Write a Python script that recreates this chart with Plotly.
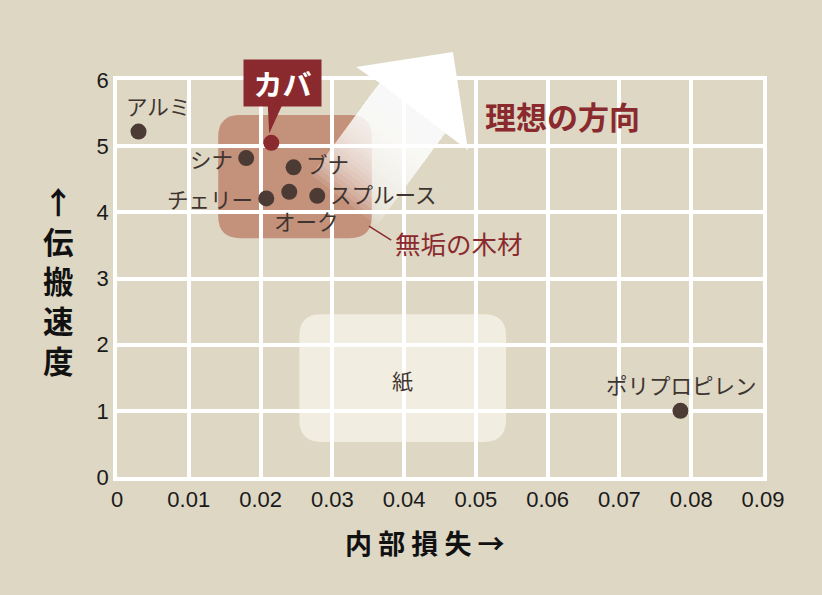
import plotly.graph_objects as go

# 各素材の 内部損失 (x) と 伝搬速度 (y)
materials = ['アルミ', 'シナ', 'ブナ', 'チェリー', 'オーク', 'スプルース', 'ポリプロピレン']
loss = [0.0030, 0.0180, 0.0246, 0.0208, 0.0240, 0.0279, 0.0785]
speed = [5.22, 4.82, 4.68, 4.21, 4.31, 4.25, 1.0]

# カバ (強調表示)
kaba_loss = [0.0215]
kaba_speed = [5.05]

# 領域 [x0, x1, y0, y1]
wood_zone = [0.0141, 0.0355, 3.61, 5.47]
paper_zone = [0.0254, 0.0542, 0.53, 2.46]

x_ticks = [0, 0.01, 0.02, 0.03, 0.04, 0.05, 0.06, 0.07, 0.08, 0.09]
x_labels = ['0', '0.01', '0.02', '0.03', '0.04', '0.05', '0.06', '0.07', '0.08', '0.09']
y_ticks = [0, 1, 2, 3, 4, 5, 6]

X_RANGE = [0, 0.09]
Y_RANGE = [0, 6]

BG = '#ddd7c4'
RED = '#8b2a2e'
DOT = '#4b3b34'
TXT = '#3e3531'
JP = 'Noto Sans CJK JP'

# label placement (pixels) for each material
label_pos = {
    'アルミ': dict(xanchor='center', xshift=19, yshift=26),
    'シナ': dict(xanchor='right', xshift=-11, yshift=0),
    'ブナ': dict(xanchor='left', xshift=10, yshift=4),
    'チェリー': dict(xanchor='right', xshift=-11, yshift=0),
    'オーク': dict(xanchor='center', xshift=17, yshift=-29),
    'スプルース': dict(xanchor='left', xshift=11, yshift=2),
    'ポリプロピレン': dict(xanchor='center', xshift=1, yshift=26),
}


def px(x):
    return (x - X_RANGE[0]) / (X_RANGE[1] - X_RANGE[0])


def py(y):
    return (y - Y_RANGE[0]) / (Y_RANGE[1] - Y_RANGE[0])


def rounded_rect(x0, x1, y0, y1, rx, ry):
    return (f'M {x0 + rx},{y0} L {x1 - rx},{y0} Q {x1},{y0} {x1},{y0 + ry} '
            f'L {x1},{y1 - ry} Q {x1},{y1} {x1 - rx},{y1} '
            f'L {x0 + rx},{y1} Q {x0},{y1} {x0},{y1 - ry} '
            f'L {x0},{y0 + ry} Q {x0},{y0} {x0 + rx},{y0} Z')


def poly(points):
    return 'M ' + ' L '.join(f'{a},{b}' for a, b in points) + ' Z'


fig = go.Figure()

fig.add_trace(go.Scatter(
    x=loss, y=speed, mode='markers',
    marker=dict(size=16, color=DOT),
    hoverinfo='skip', showlegend=False
))
fig.add_trace(go.Scatter(
    x=kaba_loss, y=kaba_speed, mode='markers',
    marker=dict(size=16, color=RED),
    hoverinfo='skip', showlegend=False
))

shapes = []
# zones (under the grid)
shapes.append(dict(type='path', layer='below', line=dict(width=0),
                   fillcolor='#c4917b',
                   path=rounded_rect(wood_zone[0], wood_zone[1], wood_zone[2], wood_zone[3], 0.0031, 0.33)))
shapes.append(dict(type='path', layer='below', line=dict(width=0),
                   fillcolor='#f1ede0',
                   path=rounded_rect(paper_zone[0], paper_zone[1], paper_zone[2], paper_zone[3], 0.0031, 0.33)))

# big "ideal direction" arrow, drawn in paper coords so it can leave the plot
head = [(0.0468, 6.423), (0.0333, 6.196), (0.0366, 5.954), (0.0457, 5.199), (0.0489, 4.942)]
notch_l, notch_r = (0.0366, 5.954), (0.0457, 5.199)
tail_l, tail_r = (0.0271, 4.56), (0.0362, 3.80)
n_steps = 24
for k in range(1, n_steps + 1):
    t = k / n_steps
    pl = (notch_l[0] + t * (tail_l[0] - notch_l[0]), notch_l[1] + t * (tail_l[1] - notch_l[1]))
    pr = (notch_r[0] + t * (tail_r[0] - notch_r[0]), notch_r[1] + t * (tail_r[1] - notch_r[1]))
    pts = [notch_l, pl, pr, notch_r]
    shapes.append(dict(type='path', xref='paper', yref='paper', line=dict(width=0),
                       fillcolor='rgba(255,255,255,0.115)',
                       path=poly([(px(a), py(b)) for a, b in pts])))
shapes.append(dict(type='path', xref='paper', yref='paper', line=dict(width=0),
                   fillcolor='white',
                   path=poly([(px(a), py(b)) for a, b in head])))

# callout pointer for カバ
shapes.append(dict(type='path', line=dict(width=0), fillcolor=RED,
                   path=poly([(0.0210, 5.64), (0.0231, 5.64), (0.0212, 5.19)])))
# leader line to 無垢の木材
shapes.append(dict(type='line', x0=0.0351, y0=3.79, x1=0.0382, y1=3.58,
                   line=dict(color=RED, width=1.5)))

annotations = []
for name, xv, yv in zip(materials, loss, speed):
    annotations.append(dict(x=xv, y=yv, text=name, showarrow=False, yanchor='middle',
                            font=dict(family=JP, size=21.5, color=TXT), **label_pos[name]))

annotations += [
    dict(x=0.02306, y=5.95, text='<b>カバ</b>', showarrow=False, bgcolor=RED,
         width=75, height=44, borderpad=1, font=dict(family=JP, size=29, color='white')),
    dict(x=0.0620, y=5.47, text='<b>理想の方向</b>', showarrow=False,
         font=dict(family=JP, size=31, color=RED)),
    dict(x=0.0385, y=3.54, text='無垢の木材', showarrow=False, xanchor='left',
         font=dict(family=JP, size=25.5, color=RED)),
    dict(x=0.0398, y=1.47, text='紙', showarrow=False,
         font=dict(family=JP, size=21, color=TXT)),
    dict(xref='paper', yref='paper', x=-0.0913, y=0.495, xanchor='center', yanchor='middle',
         text='<b>↑<br>伝<br>搬<br>速<br>度</b>',
         showarrow=False, font=dict(family=JP, size=30.5, color='#111111')),
    dict(xref='paper', yref='paper', x=0.477, y=-0.166, xanchor='center', yanchor='middle',
         text='<b>内 部 損 失 →</b>',
         showarrow=False, font=dict(family=JP, size=27, color='#111111')),
]

fig.update_layout(
    width=822, height=595,
    margin=dict(l=117, r=59, t=80, b=118),
    paper_bgcolor=BG, plot_bgcolor=BG,
    shapes=shapes, annotations=annotations,
    showlegend=False,
)
fig.update_xaxes(
    range=X_RANGE, tickvals=x_ticks, ticktext=x_labels,
    showgrid=True, gridcolor='white', gridwidth=3.5,
    zeroline=False, showline=True, linecolor='white', linewidth=3.5, mirror=True,
    ticks='', tickfont=dict(family='Liberation Sans', size=22, color='#1a1a1a'),
    fixedrange=True,
)
fig.update_yaxes(
    range=Y_RANGE, tickvals=y_ticks,
    showgrid=True, gridcolor='white', gridwidth=3.5,
    zeroline=False, showline=True, linecolor='white', linewidth=3.5, mirror=True,
    ticks='', tickfont=dict(family='Liberation Sans', size=22, color='#1a1a1a'),
    fixedrange=True,
)

fig.write_html("out.html", config={'displayModeBar': False},
               post_script="document.body.style.margin='0';")
